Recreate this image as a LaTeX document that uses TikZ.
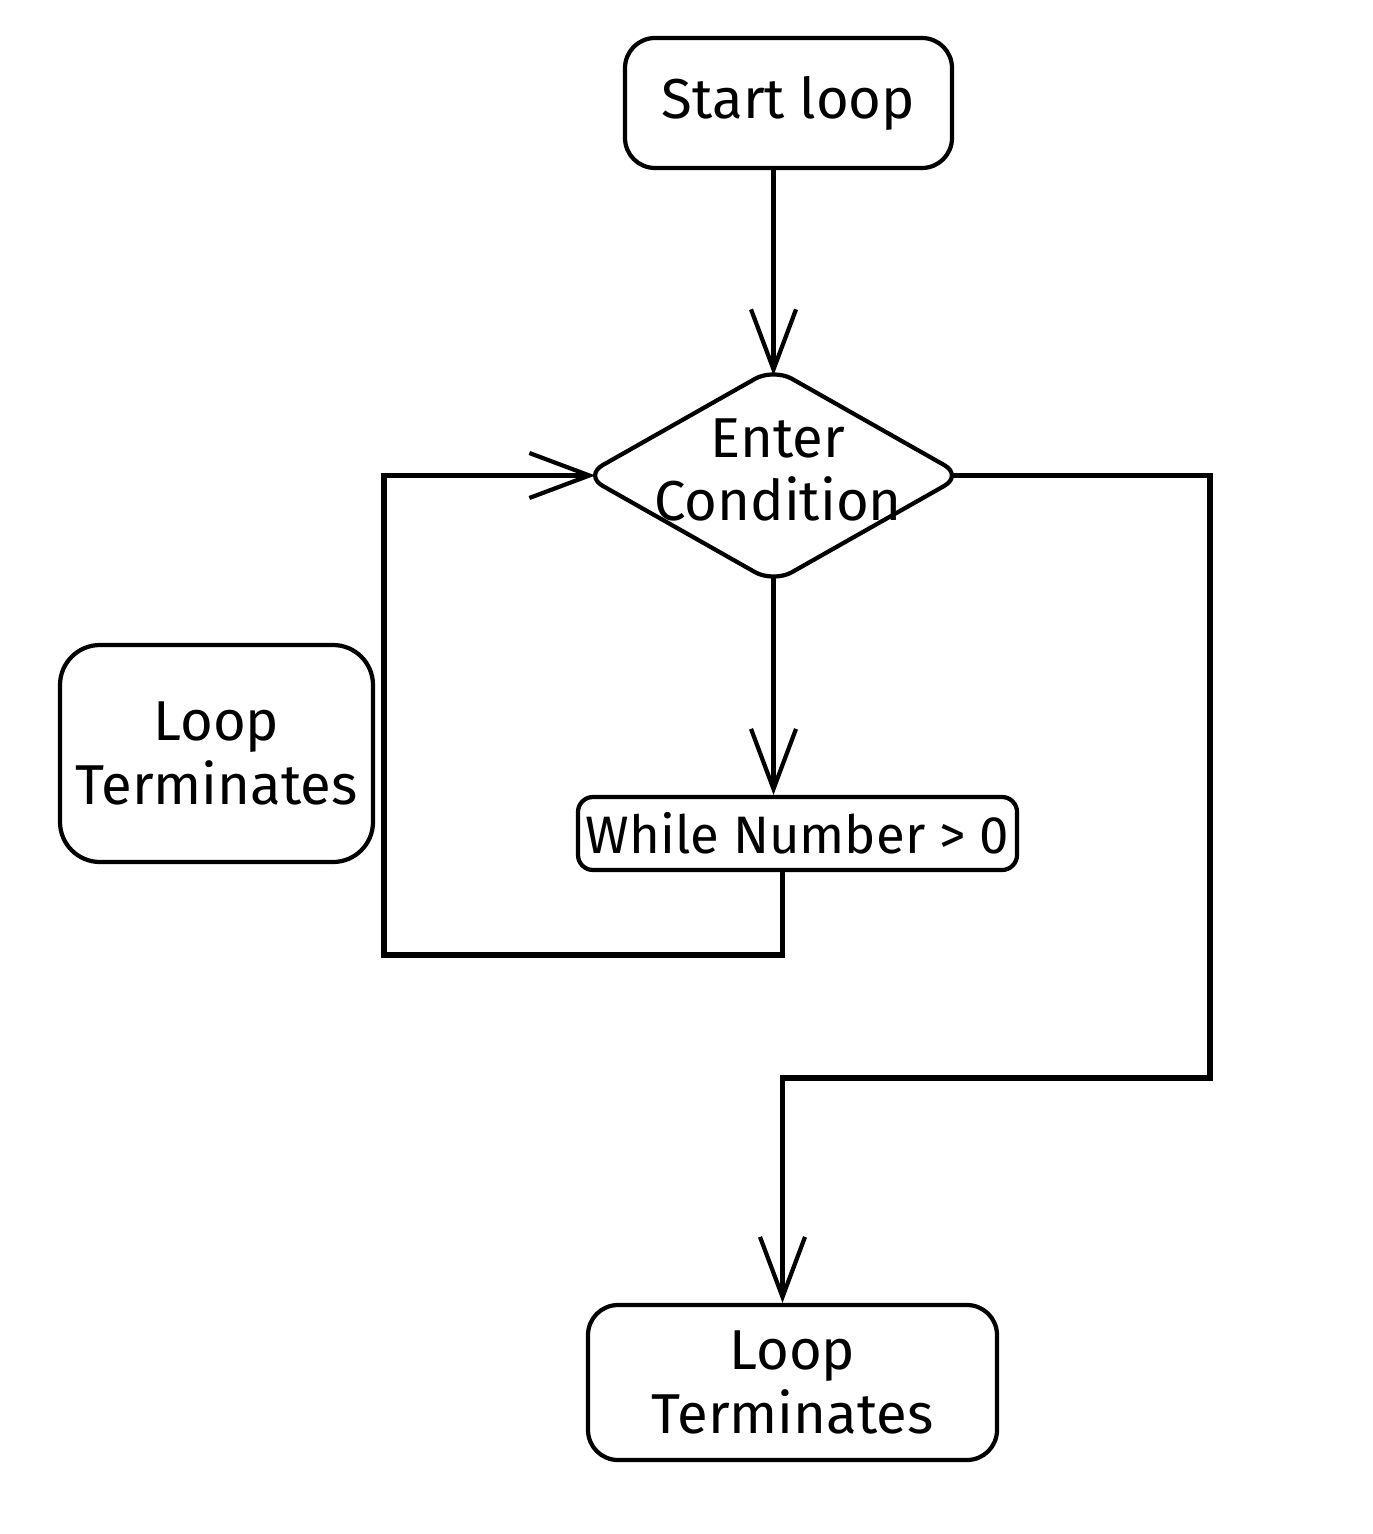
\documentclass[tikz,border=0pt]{standalone}
\usepackage{fontspec}
\setmainfont{Fira Sans}
\usetikzlibrary{shapes.geometric, arrows.meta, positioning}

\begin{document}
\begin{tikzpicture}[
    stepbox/.style={rectangle, draw, line width=1.2pt, rounded corners=0.3cm, align=center, inner sep=0pt, font=\fontsize{16}{18}\selectfont},
    decision/.style={diamond, draw, line width=1.2pt, rounded corners=6pt, aspect=1.77, minimum width=3.80cm, minimum height=2.16cm, inner sep=0pt},
    decisiontext/.style={align=center, inner sep=0pt, font=\fontsize{16}{18}\selectfont},
    arrow/.style={-{Straight Barb[length=0.6cm, width=0.45cm, line width=1.2pt]}, line width=1.2pt},
    loopline/.style={line width=1.5pt}
]
\useasboundingbox (0,0) rectangle (13.72,-15.34);

% Main flow
\node[stepbox, minimum width=3.27cm, minimum height=1.30cm] (start) at (7.885,-1.03) {Start loop};
\node[decision] (condition) at (7.735,-4.755) {};
\node[decisiontext] (conditiontext) at (7.78,-4.70) {Enter\\Condition};
\node[stepbox, minimum width=4.39cm, minimum height=0.73cm, rounded corners=0.15cm, font=\fontsize{15}{18}\selectfont] (while) at (7.975,-8.335) {While Number > 0};

% Terminating boxes
\node[stepbox, minimum width=3.13cm, minimum height=2.17cm, rounded corners=0.4cm] (termleft) at (2.165,-7.535) {Loop\\Terminates};
\node[stepbox, minimum width=4.09cm, minimum height=1.55cm] (termbottom) at (7.925,-13.825) {Loop\\Terminates};

% Corner points of the loops
\coordinate (loopcorner) at (3.84,-9.55);
\coordinate (exitcorner) at (12.10,-10.78);

% Arrows (shifted to meet the rounded tips of the diamond)
\draw[arrow] (condition.north |- start.south) -- ([yshift=-0.1cm]condition.north);
\draw[arrow] ([yshift=0.1cm]condition.south) -- (condition.south |- while.north);
\draw[arrow, loopline] ([xshift=-0.15cm]while.south) |- (loopcorner) |- ([xshift=0.14cm]condition.west);
\draw[arrow, loopline] ([xshift=-0.14cm]condition.east) -| (exitcorner) -| ([xshift=-0.1cm]termbottom.north);

\end{tikzpicture}
\end{document}
